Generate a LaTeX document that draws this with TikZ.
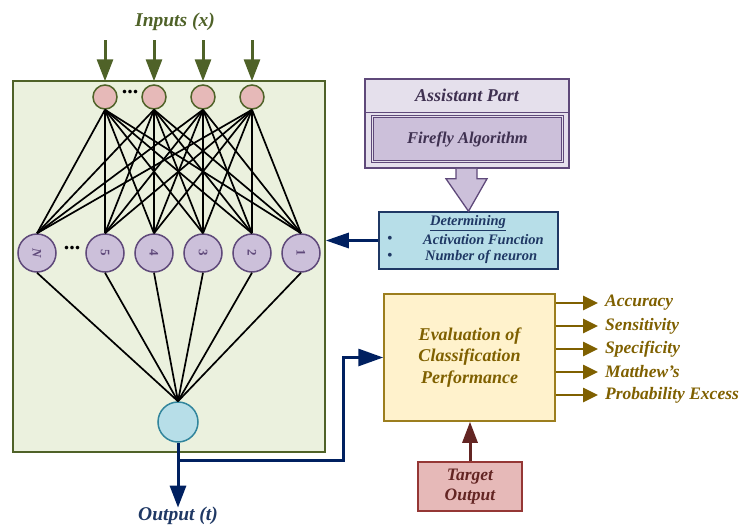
\documentclass[tikz,border=0pt]{standalone}
\usepackage{fontspec}
\setmainfont{Liberation Serif}
\usetikzlibrary{arrows.meta,calc}
\definecolor{olivec}{HTML}{4F6228}
\definecolor{greenfill}{HTML}{EBF1DE}
\definecolor{pinkfill}{HTML}{E6B9B8}
\definecolor{lilac}{HTML}{CCC0DA}
\definecolor{lilacdark}{HTML}{5F497A}
\definecolor{lilactext}{HTML}{3F3151}
\definecolor{lilaclight}{HTML}{E5E0EC}
\definecolor{bluefill}{HTML}{B7DEE8}
\definecolor{tealc}{HTML}{31859C}
\definecolor{navyc}{HTML}{002060}
\definecolor{navytext}{HTML}{1F3864}
\definecolor{goldc}{HTML}{7F6000}
\definecolor{goldborder}{HTML}{9C7E1E}
\definecolor{yellowfill}{HTML}{FFF2CC}
\definecolor{redborder}{HTML}{953735}
\definecolor{redtext}{HTML}{632523}
\begin{document}
\begin{tikzpicture}[x=1pt,y=-1pt,
  bi/.style={font=\bfseries\itshape\fontsize{#1}{21.5}\selectfont},
  inneuron/.style={circle,draw=olivec,fill=pinkfill,line width=1.5pt,minimum size=24pt,inner sep=0pt},
  hidneuron/.style={circle,draw=lilacdark,fill=lilac,line width=1.5pt,minimum size=38pt,inner sep=0pt,
     font=\bfseries\fontsize{13}{14}\selectfont,text=lilacdark},
  outneuron/.style={circle,draw=tealc,fill=bluefill,line width=1.5pt,minimum size=40pt,inner sep=0pt},
  wire/.style={black,line width=1.7pt},
  inarrow/.style={olivec,line width=3pt,-{Triangle[width=16pt,length=22pt]}},
  navyarrow/.style={navyc,line width=3pt,-{Triangle[width=16pt,length=22pt]}},
  smallnavy/.style={navyc,line width=3pt,-{Triangle[width=15pt,length=23pt]}},
  feedarrow/.style={navyc,line width=3pt,-{Triangle[width=17pt,length=25pt]}},
  goldarrow/.style={goldc,line width=2.6pt,-{Triangle[width=14pt,length=15pt]}},
  redarrow/.style={redtext,line width=3pt,-{Triangle[width=15pt,length=21pt]}},
  dots/.style={font=\bfseries\fontsize{22}{22}\selectfont,inner sep=0pt}
]
\useasboundingbox (0,0) rectangle (744,525);

% network frame
\node[draw=olivec,fill=greenfill,line width=1.5pt,minimum width=312pt,minimum height=371pt,inner sep=0pt] (net) at (169,266.5) {};

% title
\node[bi=19.5,text=olivec] (inlbl) at (175,22) {Inputs (\textit{x})};

% input neurons
\foreach \n/\x in {1/105,2/154,3/203,4/252}{
  \node[inneuron] (i\n) at (\x,97) {};
  \coordinate (ia\n) at (\x,40);
}
\node[dots] (d1) at (130,92) {...};

% hidden neurons
\node[hidneuron] (hN) at (37,253) {\rotatebox{-90}{\textit{N}}};
\node[hidneuron] (h5) at (105,253) {\rotatebox{-90}{5}};
\node[hidneuron] (h4) at (154,253) {\rotatebox{-90}{4}};
\node[hidneuron] (h3) at (203,253) {\rotatebox{-90}{3}};
\node[hidneuron] (h2) at (252,253) {\rotatebox{-90}{2}};
\node[hidneuron] (h1) at (301,253) {\rotatebox{-90}{1}};
\node[dots] (d2) at (72,248) {...};

% output neuron
\node[outneuron] (out) at (178,422) {};

% wires
\foreach \i in {i1,i2,i3,i4}{
  \foreach \h in {hN,h5,h4,h3,h2,h1}{
    \draw[wire] (\i.south) -- (\h.north);
  }
}
\foreach \h in {hN,h5,h4,h3,h2,h1}{
  \draw[wire] (\h.south) -- (out.north);
}
\foreach \n in {1,2,3,4}{
  \draw[inarrow,shorten >=3pt] (ia\n) -- (i\n.north);
}

% output
\node[bi=19.5,text=navytext] (outlbl) at (178,516) {Output (\textit{t})};
\draw[navyarrow] (out.south) -- ($(outlbl.north)+(0,4)$);

% evaluation box
\node[draw=goldborder,fill=yellowfill,line width=1.5pt,minimum width=171pt,minimum height=127pt,inner sep=0pt,
      bi=18,text=goldc,align=center] (eval) at (469.5,357.5) {Evaluation of\\Classification\\Performance};
\coordinate (j) at (178,460);
\coordinate (c1) at (343,357.5);
\draw[feedarrow] (j) -| (c1) -- (eval.west);

% metrics
\foreach \n/\y/\t in {1/303/Accuracy,2/326/Sensitivity,3/349/Specificity,4/372/Matthew’s,5/395/Probability Excess}{
  \node[bi=17.5,text=goldc,anchor=west,inner sep=0pt] (m\n) at (605,\y) {\t};
  \draw[goldarrow,shorten >=7pt] (eval.east |- m\n.west) -- (m\n.west);
}

% target
\node[draw=redborder,fill=pinkfill,line width=1.5pt,minimum width=104pt,minimum height=49pt,inner sep=0pt,
      font=\bfseries\itshape\fontsize{17.5}{20}\selectfont,text=redtext,align=center] (target) at (470,486.5) {Target\\Output};
\draw[redarrow] (target.north) -- (target.north |- eval.south);

% assistant part
\node[draw=lilacdark,fill=lilaclight,line width=1.5pt,minimum width=204pt,minimum height=89pt,inner sep=0pt] (asst) at (467,123.5) {};
\draw[lilacdark,line width=0.8pt] (365,112) -- (569,112);
\node[draw=lilacdark,double=lilaclight,double distance=1.5pt,line width=1pt,fill=lilac,minimum width=190pt,minimum height=45pt,inner sep=0pt,
      bi=16.5,text=lilactext] (ff) at (467.5,139) {Firefly Algorithm};
\node[bi=18,text=lilactext] (asstlbl) at (467,95) {Assistant Part};

% determining
\node[draw=navytext,fill=bluefill,line width=1.5pt,minimum width=179pt,minimum height=57pt,inner sep=0pt] (det) at (468.5,240.5) {};
\node[bi=14.5,text=navytext] (dt) at (468,223) {\underline{Determining}};
\node[bi=14.5,text=navytext,anchor=west,inner sep=0pt] (a1) at (423,240) {Activation Function};
\node[bi=14.5,text=navytext,anchor=west,inner sep=0pt] (a2) at (425,257) {Number of neuron};
\node[text=navytext,font=\fontsize{16}{16}\selectfont,inner sep=0pt] (b1) at (390,240) {\textbullet};
\node[text=navytext,font=\fontsize{16}{16}\selectfont,inner sep=0pt] (b2) at (390,257) {\textbullet};

% block arrow
\fill[lilac] ($(asst.south)+(-11,0)$) -- ($(asst.south)+(-11,10)$) -- ($(asst.south)+(-21,10)$) -- (det.north)
  -- ($(asst.south)+(20,10)$) -- ($(asst.south)+(10,10)$) -- ($(asst.south)+(10,0)$) -- cycle;
\draw[lilacdark,line width=1.3pt,line join=miter] ($(asst.south)+(-11,0)$) -- ($(asst.south)+(-11,10)$) -- ($(asst.south)+(-21,10)$) -- (det.north)
  -- ($(asst.south)+(20,10)$) -- ($(asst.south)+(10,10)$) -- ($(asst.south)+(10,0)$);

\draw[smallnavy] (det.west) -- (det.west -| net.east);
\end{tikzpicture}
\end{document}
